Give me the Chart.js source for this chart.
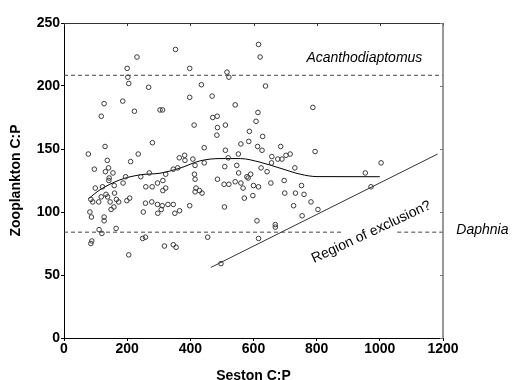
<!DOCTYPE html>
<html>
<head>
<meta charset="utf-8">
<script src="https://cdn.jsdelivr.net/npm/chart.js@4.4.0/dist/chart.umd.min.js"></script>
<style>
  html, body { margin: 0; padding: 0; background: #fff; }
  #wrap { width: 512px; height: 380px; }
</style>
</head>
<body>
<div id="wrap"><canvas id="chartCanvas"></canvas></div>
<script>
// values
var xTicks = [0, 200, 400, 600, 800, 1000, 1200];
var yTicks = [0, 50, 100, 150, 200, 250];

var sestonCP = [77, 96, 85, 91, 82, 87, 88, 85, 99, 110, 111, 120, 118, 127, 130, 122, 118, 127, 127, 131,
    137, 141, 143, 142, 133, 138, 146, 149, 155, 159, 160, 158, 166, 165, 173, 186, 187, 195, 200, 202,
    205, 199, 208, 211, 205, 223, 231, 235, 243, 259, 258, 251, 249, 258, 268, 270, 280, 279, 278, 296,
    296, 297, 304, 312, 313, 313, 311, 308, 322, 322, 329, 318, 346, 360, 346, 351, 366, 346, 355, 353,
    365, 382, 383, 398, 398, 398, 408, 412, 413, 415, 415, 418, 415, 429, 435, 437, 444, 444, 455, 469,
    471, 485, 486, 484, 486, 497, 507, 509, 511, 508, 511, 516, 522, 520, 522, 542, 542, 547, 552, 553,
    560, 560, 567, 571, 579, 583, 585, 587, 591, 598, 600, 608, 614, 613, 611, 616, 616, 616, 621, 627,
    629, 624, 638, 643, 655, 658, 657, 669, 669, 677, 686, 690, 697, 699, 703, 716, 727, 731, 733, 752,
    754, 760, 782, 788, 795, 804, 954, 972, 1004];
var zooCP = [146, 134, 110, 108, 100, 96, 77, 75, 119, 108, 86, 83, 176, 186, 152, 120, 112, 96, 93, 132,
    141, 135, 127, 125, 114, 112, 108, 102, 131, 121, 115, 104, 110, 87, 108, 188, 123, 128, 214, 207,
    202, 109, 111, 140, 66, 180, 223, 146, 128, 120, 107, 100, 79, 80, 199, 131, 155, 120, 108, 123,
    106, 99, 181, 181, 125, 117, 105, 102, 119, 130, 106, 73, 134, 135, 106, 99, 101, 74, 72, 229,
    143, 145, 141, 214, 191, 105, 142, 169, 130, 126, 137, 119, 116, 117, 201, 115, 151, 139, 80, 192,
    175, 176, 167, 161, 126, 59, 122, 136, 149, 104, 169, 211, 207, 143, 122, 185, 124, 137, 146, 131,
    154, 123, 119, 111, 128, 127, 156, 164, 130, 113, 121, 172, 179, 152, 93, 120, 79, 233, 223, 149,
    160, 135, 200, 132, 123, 144, 139, 90, 88, 142, 152, 142, 125, 115, 145, 146, 105, 135, 115, 121,
    97, 114, 108, 183, 148, 102, 131, 120, 139];

// smoothed trend
var trendX = [77, 114, 177, 241, 304, 367, 431, 494, 558, 621, 684, 748, 801, 1000];
var trendY = [110.5, 117.6, 125.5, 129.5, 130.8, 134.8, 140.6, 142.4, 142.4, 139.5, 134.8, 130, 128.1, 128];

// "region of exclusion" boundary
var exclX = [465, 1183];
var exclY = [56, 146];

// species thresholds (lower one is broken where the label crosses it)
var acanthoY = 208.5;
var daphniaY = 84;
var daphniaBreak = [884, 1055];

var fontFamily = "Arial, 'Liberation Sans', sans-serif";

function pairs(xs, ys) {
    var out = [];
    for (var i = 0; i < xs.length; i++) {
        out.push({ x: xs[i], y: ys[i] });
    }
    return out;
}

function hline(y, x0, x1) {
    return [{ x: x0, y: y }, { x: x1, y: y }];
}

function lineSet(points, opts) {
    var ds = {
        type: 'line',
        data: points,
        showLine: true,
        borderColor: '#222',
        borderWidth: 1,
        pointRadius: 0,
        fill: false
    };
    for (var k in opts) ds[k] = opts[k];
    return ds;
}

function plainLabel(v) {
    return String(v);
}

var frame = {
    id: 'frame',
    afterDraw: function(chart) {
        var ctx = chart.ctx;
        var a = chart.chartArea;
        var xs = chart.scales.x, ys = chart.scales.y;
        ctx.save();
        ctx.strokeStyle = '#333';
        ctx.lineWidth = 1;
        ctx.beginPath();
        ctx.moveTo(a.left, a.top + 0.5);
        ctx.lineTo(a.right, a.top + 0.5);
        xTicks.forEach(function(v) {
            var px = Math.round(xs.getPixelForValue(v)) + 0.5;
            ctx.moveTo(px, a.top);
            ctx.lineTo(px, a.top + 3);
        });
        ctx.stroke();
        ctx.strokeStyle = '#777';
        ctx.lineWidth = 1.5;
        ctx.beginPath();
        ctx.moveTo(a.right, a.top);
        ctx.lineTo(a.right, a.bottom);
        ctx.stroke();
        ctx.lineWidth = 1;
        ctx.beginPath();
        yTicks.forEach(function(v) {
            var py = Math.round(ys.getPixelForValue(v)) + 0.5;
            ctx.moveTo(a.right, py);
            ctx.lineTo(a.right - 3, py);
        });
        ctx.stroke();

        // labels
        ctx.fillStyle = '#000';
        ctx.textBaseline = 'middle';
        ctx.font = 'italic 14px ' + fontFamily;
        ctx.textAlign = 'center';
        ctx.fillText('Acanthodiaptomus', xs.getPixelForValue(951), ys.getPixelForValue(222));
        ctx.textAlign = 'left';
        ctx.fillText('Daphnia', xs.getPixelForValue(1242), ys.getPixelForValue(86));

        ctx.font = '14px ' + fontFamily;
        ctx.textAlign = 'center';
        ctx.translate(xs.getPixelForValue(973), ys.getPixelForValue(84));
        ctx.rotate(-25 * Math.PI / 180);
        ctx.fillText('Region of exclusion?', 0, 0);
        ctx.restore();
    }
};

var ctx = document.getElementById('chartCanvas').getContext('2d');
var chart = new Chart(ctx, {
    type: 'scatter',
    data: {
        datasets: [
            {
                data: pairs(sestonCP, zooCP),
                pointRadius: 2.3,
                borderWidth: 1,
                borderColor: '#3a3a3a',
                backgroundColor: 'rgba(0,0,0,0)'
            },
            lineSet(pairs(trendX, trendY), { borderColor: '#000', cubicInterpolationMode: 'monotone' }),
            lineSet(pairs(exclX, exclY), { borderColor: '#333' }),
            lineSet(hline(acanthoY, 0, 1200), { borderColor: '#444', borderDash: [4, 3] }),
            lineSet(hline(daphniaY, 0, daphniaBreak[0]), { borderColor: '#444', borderDash: [4, 3] }),
            lineSet(hline(daphniaY, daphniaBreak[1], 1200), { borderColor: '#444', borderDash: [4, 3] })
        ]
    },
    options: {
        responsive: true,
        maintainAspectRatio: false,
        animation: false,
        layout: { padding: { left: 0, right: 69, top: 23, bottom: 0 } },
        plugins: {
            legend: { display: false },
            tooltip: { enabled: false }
        },
        scales: {
            x: {
                type: 'linear',
                min: 0,
                max: 1200,
                afterFit: function(scale) { scale.height = 42; },
                afterBuildTicks: function(scale) {
                    scale.ticks = xTicks.map(function(v) { return { value: v }; });
                },
                ticks: {
                    color: '#000',
                    padding: 0,
                    maxRotation: 0,
                    callback: plainLabel,
                    font: { family: fontFamily, size: 14, weight: 'bold' }
                },
                grid: { drawOnChartArea: false, drawTicks: true, tickLength: 3, color: '#000' },
                border: { display: true, color: '#000', width: 1 },
                title: {
                    display: true,
                    text: 'Seston C:P',
                    color: '#000',
                    padding: { top: 0, bottom: -3 },
                    font: { family: fontFamily, size: 14, weight: 'bold', lineHeight: 1 }
                }
            },
            y: {
                min: 0,
                max: 250,
                afterFit: function(scale) { scale.width = 64; },
                afterBuildTicks: function(scale) {
                    scale.ticks = yTicks.map(function(v) { return { value: v }; });
                },
                ticks: {
                    color: '#000',
                    padding: 1,
                    callback: plainLabel,
                    font: { family: fontFamily, size: 14, weight: 'bold' }
                },
                grid: { drawOnChartArea: false, drawTicks: true, tickLength: 3, color: '#000' },
                border: { display: true, color: '#000', width: 1 },
                title: {
                    display: true,
                    text: 'Zooplankton C:P',
                    color: '#000',
                    padding: { top: 9.5, bottom: 0 },
                    font: { family: fontFamily, size: 14, weight: 'bold', lineHeight: 1 }
                }
            }
        }
    },
    plugins: [frame]
});
</script>
</body>
</html>
